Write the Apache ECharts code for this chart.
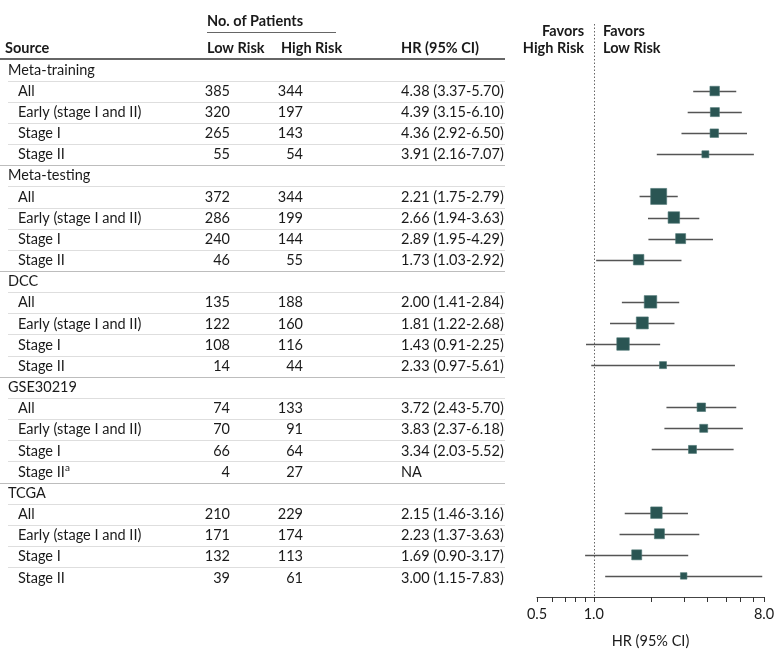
<!DOCTYPE html>
<html><head><meta charset="utf-8">
<script src="https://cdn.jsdelivr.net/npm/echarts@6/dist/echarts.min.js"></script>
<style>html,body{margin:0;padding:0;background:#fff}#c{width:780px;height:654px}</style>
</head><body><div id="c"></div>
<script>
// ---------- data ----------
const groups = ['Meta-training', 'Meta-testing', 'DCC', 'GSE30219', 'TCGA'];
const subgroups = ['All', 'Early (stage I and II)', 'Stage I', 'Stage II'];
const footnotes = [['', '', '', ''], ['', '', '', ''], ['', '', '', ''], ['', '', '', 'a'], ['', '', '', '']];
const lowRisk = [[385, 320, 265, 55], [372, 286, 240, 46], [135, 122, 108, 14], [74, 70, 66, 4], [210, 171, 132, 39]];
const highRisk = [[344, 197, 143, 54], [344, 199, 144, 55], [188, 160, 116, 44], [133, 91, 64, 27], [229, 174, 113, 61]];
const hrValue = [[4.38, 4.39, 4.36, 3.91], [2.21, 2.66, 2.89, 1.73], [2.00, 1.81, 1.43, 2.33], [3.72, 3.83, 3.34, null], [2.15, 2.23, 1.69, 3.00]];
const ciLower = [[3.37, 3.15, 2.92, 2.16], [1.75, 1.94, 1.95, 1.03], [1.41, 1.22, 0.91, 0.97], [2.43, 2.37, 2.03, null], [1.46, 1.37, 0.90, 1.15]];
const ciUpper = [[5.70, 6.10, 6.50, 7.07], [2.79, 3.63, 4.29, 2.92], [2.84, 2.68, 2.25, 5.61], [5.70, 6.18, 5.52, null], [3.16, 3.63, 3.17, 7.83]];
const boxWeight = [[9.5, 9, 8.5, 7], [16, 11.5, 10, 10.5], [12.5, 12, 12.5, 7], [8.5, 8, 8, null], [11.5, 10, 10, 6.5]];
const xTicks = [0.5, 0.6, 0.7, 0.8, 0.9, 1, 2, 3, 4, 5, 6, 7, 8];
const xTickLabels = [0.5, 1, 8];

// ---------- build rows ----------
const rows = [];
groups.forEach((g, gi) => {
  rows.push({ type: 'group', label: g });
  subgroups.forEach((s, si) => {
    const h = hrValue[gi][si];
    rows.push({
      type: 'sub', label: s, foot: footnotes[gi][si],
      low: lowRisk[gi][si], high: highRisk[gi][si],
      hr: h, lo: ciLower[gi][si], hi: ciUpper[gi][si], w: boxWeight[gi][si],
      hrText: h == null ? 'NA' : h.toFixed(2) + ' (' + ciLower[gi][si].toFixed(2) + '-' + ciUpper[gi][si].toFixed(2) + ')'
    });
  });
});
const nRows = rows.length;

const FONT = '"Lato", "Liberation Sans", sans-serif';
const FS = 14.5;
const TXT = '#1a1a1a';
const COL = { group: 8, sub: 18, low: 230, high: 303, hr: 401, end: 505 };

const forestData = [];
rows.forEach((r, i) => { if (r.type === 'sub' && r.hr != null) forestData.push([r.hr, r.lo, r.hi, i, r.w]); });
const tableData = rows.map((r, i) => [0, i]);

const chart = echarts.init(document.getElementById('c'), null, { renderer: 'canvas' });

function crisp(v) { return Math.round(v) + 0.5; }

const option = {
  animation: false,
  textStyle: { fontFamily: FONT },
  grid: [
    { left: 537, right: 16, top: 59.4, bottom: 55 },
    { left: 0, width: 505, top: 59.4, bottom: 55 }
  ],
  xAxis: [
    {
      gridIndex: 0, type: 'log', logBase: 2, min: 0.5, max: 8, position: 'bottom',
      axisLine: { onZero: false, lineStyle: { color: '#444', width: 1 } },
      axisTick: { show: false },
      axisLabel: { customValues: xTickLabels, formatter: v => Number(v).toFixed(1), color: TXT, fontSize: FS, fontFamily: FONT, margin: 10 },
      splitLine: { show: false },
      name: 'HR (95% CI)', nameLocation: 'middle', nameGap: 37,
      nameTextStyle: { color: TXT, fontSize: FS, fontFamily: FONT }
    },
    { gridIndex: 1, type: 'value', min: 0, max: 505, show: false }
  ],
  yAxis: [
    { gridIndex: 0, type: 'value', inverse: true, min: -0.5, max: nRows, show: false },
    { gridIndex: 1, type: 'value', inverse: true, min: -0.5, max: nRows, show: false }
  ],
  series: [
    {
      type: 'custom', xAxisIndex: 1, yAxisIndex: 1, data: tableData, silent: true,
      renderItem: function (params, api) {
        const i = params.dataIndex;
        const r = rows[i];
        const y = api.coord([0, i])[1];
        const px = x => api.coord([x, i])[0];
        const children = [];
        const base = { fill: TXT, font: FS + 'px ' + FONT, textVerticalAlign: 'middle' };
        if (r.type === 'group') {
          children.push({ type: 'text', x: px(COL.group), y: y, style: Object.assign({ text: r.label, textAlign: 'left' }, base) });
        } else {
          children.push({ type: 'text', x: px(COL.sub), y: y, style: Object.assign({ text: r.label, textAlign: 'left' }, base) });
          if (r.foot) {
            children.push({ type: 'text', x: px(COL.sub) + 47, y: y - 4, style: Object.assign({}, base, { text: r.foot, textAlign: 'left', font: '10px ' + FONT }) });
          }
          children.push({ type: 'text', x: px(COL.low), y: y, style: Object.assign({ text: String(r.low), textAlign: 'right' }, base) });
          children.push({ type: 'text', x: px(COL.high), y: y, style: Object.assign({ text: String(r.high), textAlign: 'right' }, base) });
          children.push({ type: 'text', x: px(COL.hr), y: y, style: Object.assign({ text: r.hrText, textAlign: 'left' }, base) });
        }
        if (i < nRows - 1) {
          const ly = crisp(api.coord([0, i + 0.5])[1]);
          const nextGroup = rows[i + 1].type === 'group';
          children.push({
            type: 'line',
            shape: { x1: nextGroup ? px(0) : px(COL.group), y1: ly, x2: px(COL.end), y2: ly },
            style: { stroke: nextGroup ? '#bdbdbd' : '#dedede', lineWidth: 1 }
          });
        }
        return { type: 'group', children: children };
      }
    },
    {
      type: 'custom', xAxisIndex: 0, yAxisIndex: 0, data: forestData, silent: true, clip: false,
      encode: { x: [0, 1, 2], y: 3 },
      renderItem: function (params, api) {
        const yi = api.value(3);
        const c = api.coord([api.value(0), yi]);
        const l = api.coord([api.value(1), yi]);
        const h = api.coord([api.value(2), yi]);
        const s = api.value(4);
        const ly = Math.round(c[1]) + 0.5;
        return {
          type: 'group', children: [
            { type: 'line', shape: { x1: l[0], y1: ly, x2: h[0], y2: ly }, style: { stroke: '#555', lineWidth: 1.3 } },
            { type: 'rect', shape: { x: c[0] - s / 2, y: c[1] - s / 2, width: s, height: s }, style: { fill: '#2a5553', stroke: '#4d7673', lineWidth: 0.6 } }
          ]
        };
      }
    }
  ],
  graphic: [
    { type: 'text', x: 207, y: 21, style: { text: 'No. of Patients', font: 'bold ' + FS + 'px ' + FONT, fill: TXT, textVerticalAlign: 'middle' } },
    { type: 'line', shape: { x1: 207, y1: 32.5, x2: 336, y2: 32.5 }, style: { stroke: '#666', lineWidth: 1 } },
    { type: 'text', x: 5, y: 48, style: { text: 'Source', font: 'bold ' + FS + 'px ' + FONT, fill: TXT, textVerticalAlign: 'middle' } },
    { type: 'text', x: 207, y: 48, style: { text: 'Low Risk', font: 'bold ' + FS + 'px ' + FONT, fill: TXT, textVerticalAlign: 'middle' } },
    { type: 'text', x: 281, y: 48, style: { text: 'High Risk', font: 'bold ' + FS + 'px ' + FONT, fill: TXT, textVerticalAlign: 'middle' } },
    { type: 'text', x: 401, y: 48, style: { text: 'HR (95% CI)', font: 'bold ' + FS + 'px ' + FONT, fill: TXT, textVerticalAlign: 'middle' } },
    { type: 'line', shape: { x1: 0, y1: 59, x2: 505, y2: 59 }, style: { stroke: '#333', lineWidth: 1.5 } },
    { type: 'text', x: 584, y: 31, style: { text: 'Favors', font: 'bold ' + FS + 'px ' + FONT, fill: TXT, textAlign: 'right', textVerticalAlign: 'middle' } },
    { type: 'text', x: 584, y: 48, style: { text: 'High Risk', font: 'bold ' + FS + 'px ' + FONT, fill: TXT, textAlign: 'right', textVerticalAlign: 'middle' } },
    { type: 'text', x: 603, y: 31, style: { text: 'Favors', font: 'bold ' + FS + 'px ' + FONT, fill: TXT, textAlign: 'left', textVerticalAlign: 'middle' } },
    { type: 'text', x: 603, y: 48, style: { text: 'Low Risk', font: 'bold ' + FS + 'px ' + FONT, fill: TXT, textAlign: 'left', textVerticalAlign: 'middle' } }
  ]
};
chart.setOption(option);

// reference line at HR = 1 and axis ticks, positioned through the log axis
const refX = Math.round(chart.convertToPixel({ xAxisIndex: 0 }, 1)) + 0.5;
const axisY = Math.round(chart.convertToPixel({ yAxisIndex: 0 }, nRows));
const tickGraphics = xTicks.map(v => {
  const x = Math.round(chart.convertToPixel({ xAxisIndex: 0 }, v)) + 0.5;
  return { type: 'line', z: 10, shape: { x1: x, y1: axisY, x2: x, y2: axisY + 5 }, style: { stroke: '#333', lineWidth: 1 } };
});
chart.setOption({
  graphic: option.graphic.concat([
    { type: 'line', z: 1, shape: { x1: refX, y1: 24, x2: refX, y2: axisY - 1 }, style: { stroke: '#666', lineWidth: 1, lineDash: [1.5, 2] } }
  ], tickGraphics)
});
</script>
</body></html>
